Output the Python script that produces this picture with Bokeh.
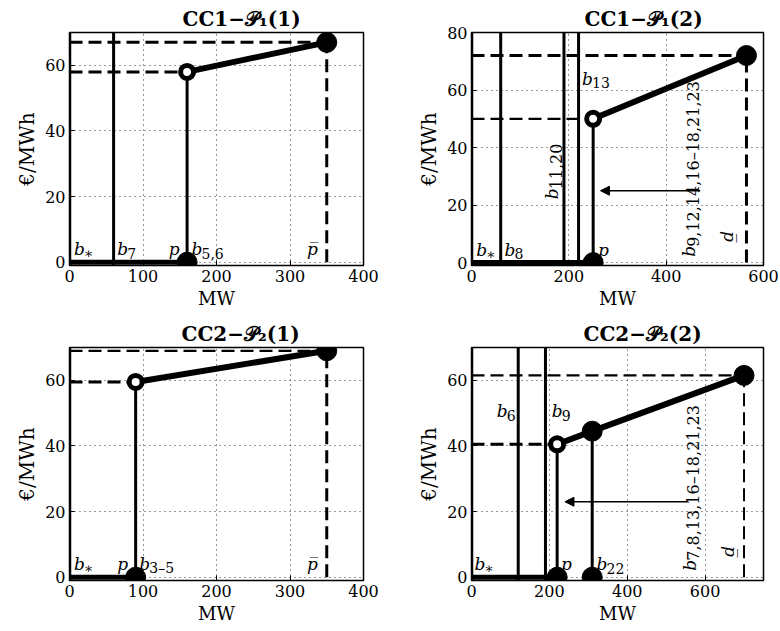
import math
from bokeh.plotting import figure
from bokeh.models import Range1d, FixedTicker, Arrow, NormalHead
from bokeh.layouts import gridplot
from bokeh.embed import file_html
from bokeh.resources import INLINE
from bokeh.core.properties import value

FONT = "DejaVu Serif"

# ---------------- data ----------------
titles = ["CC1−𝒫₁(1)", "CC1−𝒫₁(2)", "CC2−𝒫₂(1)", "CC2−𝒫₂(2)"]
x_limits = [(0, 400), (0, 600), (0, 400), (0, 750)]
y_limits = [(-1, 70), (-1, 80), (-1, 70), (-1, 70)]
x_ticks = [[0, 100, 200, 300, 400], [0, 200, 400, 600], [0, 100, 200, 300, 400], [0, 200, 400, 600]]
y_ticks = [[0, 20, 40, 60], [0, 20, 40, 60, 80], [0, 20, 40, 60], [0, 20, 40, 60]]

# offer curves: first point = minimum power (open circle), last = maximum power
curve_x = [[160, 350], [250, 565], [90, 350], [220, 310, 700]]
curve_y = [[58, 67], [50, 72], [59.5, 69], [40.5, 44.5, 61.5]]
# full-height bid lines b
b_lines = [[0, 60], [0, 60, 190, 220], [0], [0, 120, 190]]
# extra block (b22) in panel 4
extra_x = [[], [], [], [310]]
extra_y = [[], [], [], [44.5]]
# arrows (x_start, x_end, y)
arrow_x0 = [None, 470, None, 555]
arrow_x1 = [None, 265, None, 240]
arrow_y = [None, 25, None, 23]

# label annotations: (base, subscript, x, y, angle_deg)
labels = [
    [("b", "∗", 6, 4, 0), ("b", "7", 65, 4, 0), ("p\u0332", "", 135, 4, 0),
     ("b", "5,6", 166, 4, 0), ("p\u0305", "", 323, 4, 0)],
    [("b", "∗", 10, 4.5, 0), ("b", "8", 68, 4.5, 0), ("b", "11,20", 166, 22, 90),
     ("b", "13", 227, 64, 0), ("p\u0332", "", 260, 4.5, 0),
     ("b", "9,12,14,16–18,21,23", 447, 2, 90), ("p\u0305", "", 532, 11, -90)],
    [("b", "∗", 6, 4, 0), ("p\u0332", "", 65, 4, 0), ("b", "3–5", 95, 4, 0),
     ("p\u0305", "", 323, 4, 0)],
    [("b", "∗", 8, 4, 0), ("b", "6", 65, 50.5, 0), ("b", "9", 206, 50.5, 0),
     ("p\u0332", "", 230, 4, 0), ("b", "22", 321, 4, 0),
     ("b", "7,8,13,16–18,21,23", 561, 2, 90), ("p\u0305", "", 667, 9.5, -90)],
]

borders_left = [69, 80, 69, 81]
borders_right = [27, 17, 27, 17]
title_offsets = [113, 113, 112, 112]


def make_panel(i):
    xr, yr = x_limits[i], y_limits[i]
    p = figure(width=390, height=315, output_backend="svg", toolbar_location=None,
               x_range=Range1d(*xr), y_range=Range1d(*yr),
               min_border_left=borders_left[i], min_border_right=borders_right[i],
               min_border_top=32, min_border_bottom=50,
               background_fill_color="white", border_fill_color="white")
    p.outline_line_color = "black"
    p.outline_line_width = 1.5
    p.outline_line_alpha = 1

    p.title.text = titles[i]
    p.title.align = "left"
    p.title.offset = title_offsets[i]
    p.title.text_font = FONT
    p.title.text_font_size = "20px"
    p.title.text_font_style = "bold"
    p.title.text_color = "black"
    p.title.standoff = 3

    p.xaxis.ticker = FixedTicker(ticks=x_ticks[i])
    p.yaxis.ticker = FixedTicker(ticks=y_ticks[i])
    p.xaxis.axis_label = "MW"
    p.yaxis.axis_label = "€/MWh"
    for ax in (p.xaxis[0], p.yaxis[0]):
        ax.axis_line_color = None
        ax.major_tick_in = 5
        ax.major_tick_out = 0
        ax.major_tick_line_color = "black"
        ax.minor_tick_line_color = None
        ax.major_label_text_font = FONT
        ax.major_label_text_font_size = "16px"
        ax.major_label_text_color = "black"
        ax.major_label_standoff = 4
        ax.axis_label_text_font = FONT
        ax.axis_label_text_font_style = "normal"
        ax.axis_label_text_color = "black"
        ax.axis_label_standoff = 3
    p.xaxis.axis_label_text_font_size = "18px"
    p.yaxis.axis_label_text_font_size = "20px"

    for g in (p.xgrid[0], p.ygrid[0]):
        g.grid_line_color = "black"
        g.grid_line_dash = "1 4"
        g.grid_line_width = 1
        g.grid_line_alpha = 0.8

    cx, cy = curve_x[i], curve_y[i]
    xmin, ymin_price = cx[0], cy[0]
    xmax, ymax_price = cx[-1], cy[-1]
    top = yr[1]

    # dashed guide lines
    p.line([0, xmax], [ymax_price, ymax_price], line_color="black",
           line_width=2.2 if i in (2, 3) else 3, line_dash="13 6")
    p.line([0, xmin], [ymin_price, ymin_price], line_color="black",
           line_width=2.2 if i == 1 else 3, line_dash="13 6")
    p.line([xmax, xmax], [0, ymax_price], line_color="black",
           line_width=2 if i == 3 else 3, line_dash="13 6")

    # full-height bid lines
    for bx in b_lines[i]:
        p.line([bx, bx], [yr[0], top], line_color="black", line_width=3.5 if bx == 0 else 3)

    # zero-output segment and vertical jump to minimum power
    p.line([0, xmin], [0, 0], line_color="black", line_width=5)
    p.line([xmin, xmin], [0, ymin_price], line_color="black", line_width=3)
    for ex, ey in zip(extra_x[i], extra_y[i]):
        p.line([ex, ex], [0, ey], line_color="black", line_width=3)

    # offer curve
    p.line(cx, cy, line_color="black", line_width=6, line_join="round")

    # markers
    fx = [xmin, xmax] + extra_x[i] + extra_x[i]
    fy = [0, ymax_price] + [0] * len(extra_x[i]) + extra_y[i]
    p.scatter(fx, fy, size=20, fill_color="black", line_color="black")
    p.scatter([xmin], [ymin_price], size=13, fill_color="white", line_color="black", line_width=5)

    # arrow
    if arrow_x0[i] is not None:
        p.add_layout(Arrow(end=NormalHead(size=9, fill_color="black", line_color="black", line_width=1),
                           x_start=arrow_x0[i], y_start=arrow_y[i],
                           x_end=arrow_x1[i], y_end=arrow_y[i],
                           line_color="black", line_width=1.6))

    # labels
    for base, sub, lx, ly, ang in labels[i]:
        a = math.radians(ang)
        p.text([lx], [ly], text=[base], angle=a, text_font=value(FONT),
               text_font_style="italic", text_font_size="17px", text_color="black",
               text_align="left", text_baseline="alphabetic")
        if sub:
            if ang == 0:
                xo, yo, fs = 10, 4, "14px"
            else:
                xo, yo, fs = 4, -10, "16px"
            p.text([lx], [ly], text=[sub], angle=a, x_offset=xo, y_offset=yo,
                   text_font=value(FONT), text_font_size=fs, text_color="black",
                   text_align="left", text_baseline="alphabetic")
    return p


panels = [make_panel(i) for i in range(4)]
grid = gridplot([[panels[0], panels[1]], [panels[2], panels[3]]], toolbar_location=None)

open("out.html", "w").write(file_html(grid, INLINE))
